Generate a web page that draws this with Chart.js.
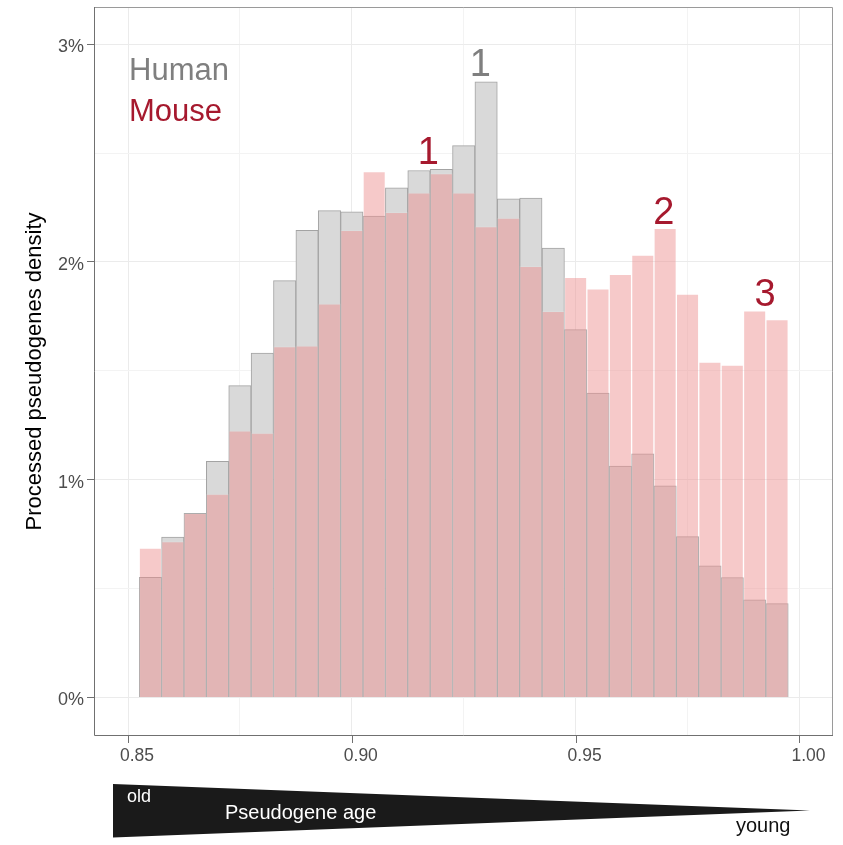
<!DOCTYPE html>
<html>
<head>
<meta charset="utf-8">
<script src="https://cdn.jsdelivr.net/npm/chart.js@4/dist/chart.umd.min.js"></script>
<style>
  html, body { margin: 0; padding: 0; background: #fff; }
  #wrap { width: 843px; height: 845px; }
</style>
</head>
<body>
<div id="wrap"><canvas id="histChart" width="843" height="845"></canvas></div>
<script>
// bin centres (bin width 0.005)
const binCenters = [0.855, 0.86, 0.865, 0.87, 0.875, 0.88, 0.885, 0.89, 0.895, 0.9,
    0.905, 0.91, 0.915, 0.92, 0.925, 0.93, 0.935, 0.94, 0.945, 0.95,
    0.955, 0.96, 0.965, 0.97, 0.975, 0.98, 0.985, 0.99, 0.995];

// density in percent
const humanDensity = [0.552, 0.736, 0.846, 1.084, 1.432, 1.582, 1.914, 2.145, 2.236, 2.230,
    2.211, 2.340, 2.420, 2.426, 2.534, 2.827, 2.290, 2.294, 2.064, 1.689,
    1.398, 1.063, 1.119, 0.972, 0.739, 0.604, 0.551, 0.448, 0.431];
const mouseDensity = [0.686, 0.716, 0.846, 0.934, 1.225, 1.214, 1.611, 1.615, 1.808, 2.145,
    2.415, 2.228, 2.317, 2.406, 2.317, 2.162, 2.202, 1.980, 1.773, 1.929,
    1.877, 1.943, 2.032, 2.154, 1.853, 1.540, 1.527, 1.776, 1.735];

const xTicks = [0.85, 0.875, 0.9, 0.925, 0.95, 0.975, 1.0];
const xMajor = [0.85, 0.9, 0.95, 1.0];
const yTicks = [0, 0.5, 1, 1.5, 2, 2.5, 3];
const yMajor = [0, 1, 2, 3];

// peak labels: text, x value, y value (baseline), series
const peakText = ["1", "1", "2", "3"];
const peakX = [0.9287, 0.9171, 0.9697, 0.9923];
const peakY = [2.853, 2.450, 2.176, 1.799];
const peakSeries = ["Human", "Mouse", "Mouse", "Mouse"];

const FONT = "'Liberation Sans', Arial, Helvetica, sans-serif";
const HUMAN_TEXT = "#7f7f7f";
const MOUSE_TEXT = "#a6192e";
const AXIS = "#707070";

const isMajor = (list, v) => list.some(m => Math.abs(m - v) < 1e-9);
const tickVal = c => (c && c.tick) ? c.tick.value : NaN;

const decorations = {
    id: "decorations",
    afterDraw(chart) {
        const { ctx, chartArea: a, scales: { x, y } } = chart;
        ctx.save();

        // panel border
        ctx.lineWidth = 1;
        ctx.strokeStyle = "#9a9a9a";
        ctx.beginPath();
        ctx.moveTo(a.left, a.top + 0.5);
        ctx.lineTo(a.right - 0.5, a.top + 0.5);
        ctx.lineTo(a.right - 0.5, a.bottom);
        ctx.stroke();
        ctx.strokeStyle = AXIS;
        ctx.beginPath();
        ctx.moveTo(a.left + 0.5, a.top);
        ctx.lineTo(a.left + 0.5, a.bottom - 0.5);
        ctx.lineTo(a.right, a.bottom - 0.5);
        ctx.stroke();

        // x tick marks at major breaks
        ctx.beginPath();
        xMajor.forEach(v => {
            const px = Math.round(x.getPixelForValue(v)) + 0.5;
            ctx.moveTo(px, a.bottom);
            ctx.lineTo(px, a.bottom + 7);
        });
        ctx.stroke();

        // legend text
        ctx.font = "31px " + FONT;
        ctx.textAlign = "left";
        ctx.textBaseline = "alphabetic";
        ctx.fillStyle = HUMAN_TEXT;
        ctx.fillText("Human", a.left + 35, a.top + 73);
        ctx.fillStyle = MOUSE_TEXT;
        ctx.fillText("Mouse", a.left + 35, a.top + 114);

        // peak labels
        ctx.font = "38px " + FONT;
        ctx.textAlign = "center";
        peakText.forEach((t, i) => {
            ctx.fillStyle = peakSeries[i] === "Human" ? HUMAN_TEXT : MOUSE_TEXT;
            ctx.fillText(t, x.getPixelForValue(peakX[i]), y.getPixelForValue(peakY[i]));
        });

        // age wedge below the axis
        ctx.fillStyle = "#1a1a1a";
        ctx.beginPath();
        ctx.moveTo(113, 784);
        ctx.lineTo(810, 810.5);
        ctx.lineTo(113, 837.5);
        ctx.closePath();
        ctx.fill();

        ctx.textAlign = "left";
        ctx.fillStyle = "#ffffff";
        ctx.font = "18px " + FONT;
        ctx.fillText("old", 127, 801.5);
        ctx.font = "20px " + FONT;
        ctx.fillText("Pseudogene age", 225, 818.5);
        ctx.fillStyle = "#111111";
        ctx.fillText("young", 736, 831.5);

        ctx.restore();
    }
};

const ctx = document.getElementById("histChart").getContext("2d");
new Chart(ctx, {
    type: "bar",
    data: {
        datasets: [
            {
                label: "Human",
                data: binCenters.map((c, i) => ({ x: c, y: humanDensity[i] })),
                backgroundColor: "#d9d9d9",
                borderColor: "#a3a3a3",
                borderWidth: 1,
                order: 2,
            },
            {
                label: "Mouse",
                data: binCenters.map((c, i) => ({ x: c, y: mouseDensity[i] })),
                backgroundColor: "rgba(236,142,142,0.48)",
                borderColor: "rgba(255,255,255,0.1)",
                borderWidth: 1,
                order: 1,
            },
        ],
    },
    options: {
        responsive: false,
        animation: false,
        devicePixelRatio: 1,
        layout: { padding: { left: 0, top: 7, right: 10, bottom: 0 } },
        datasets: {
            bar: { barPercentage: 1, categoryPercentage: 1, grouped: false },
        },
        plugins: {
            legend: { display: false },
            tooltip: { enabled: false },
        },
        scales: {
            x: {
                type: "linear",
                min: 0.8424,
                max: 1.0075,
                offset: false,
                afterFit: s => { s.height = 109; s.paddingLeft = 0; s.paddingRight = 0; },
                afterBuildTicks: s => { s.ticks = xTicks.map(v => ({ value: v })); },
                border: { display: false },
                grid: {
                    offset: false,
                    drawTicks: false,
                    color: c => isMajor(xMajor, tickVal(c)) ? "#ebebeb" : "#f3f3f3",
                    lineWidth: 1,
                },
                ticks: {
                    autoSkip: false,
                    maxRotation: 0,
                    padding: 10,
                    labelOffset: 9,
                    color: "#4d4d4d",
                    font: { family: FONT, size: 17.5 },
                    callback: v => isMajor(xMajor, v) ? v.toFixed(2) : "",
                },
            },
            y: {
                type: "linear",
                min: -0.177,
                max: 3.171,
                afterFit: s => { s.width = 94; s.paddingTop = 0; s.paddingBottom = 0; },
                afterBuildTicks: s => { s.ticks = yTicks.map(v => ({ value: v })); },
                border: { display: false },
                grid: {
                    color: c => isMajor(yMajor, tickVal(c)) ? "#ebebeb" : "#f3f3f3",
                    lineWidth: 1,
                    tickLength: 7,
                    tickColor: c => isMajor(yMajor, tickVal(c)) ? AXIS : "rgba(0,0,0,0)",
                },
                ticks: {
                    autoSkip: false,
                    padding: 3,
                    labelOffset: 3,
                    color: "#4d4d4d",
                    font: { family: FONT, size: 18 },
                    callback: v => isMajor(yMajor, v) ? v + "%" : "",
                },
                title: {
                    display: true,
                    text: "Processed pseudogenes density",
                    color: "#000000",
                    font: { family: FONT, size: 22 },
                    padding: { top: 22, bottom: 0 },
                },
            },
        },
    },
    plugins: [decorations],
});
</script>
</body>
</html>
